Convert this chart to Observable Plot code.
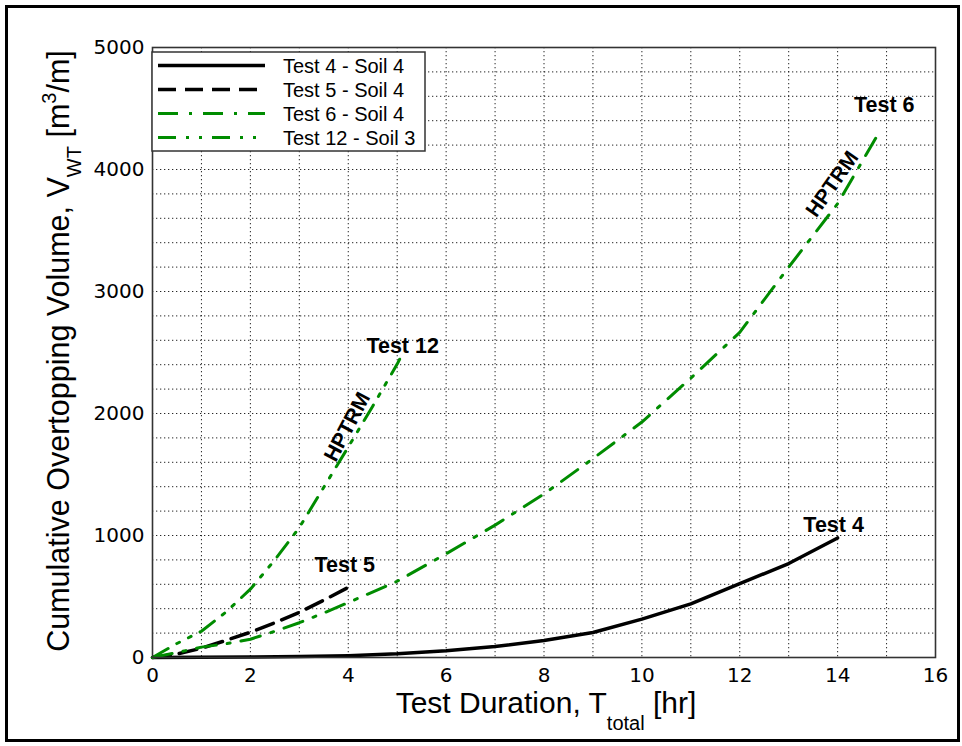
<!DOCTYPE html>
<html><head><meta charset="utf-8">
<script src="https://cdn.jsdelivr.net/npm/d3@7"></script>
<script src="https://cdn.jsdelivr.net/npm/@observablehq/plot@0.6"></script>
<style>
body{margin:0;background:#fff;}
#wrap{position:relative;width:962px;height:746px;background:#fff;}
#border{position:absolute;left:5px;top:5px;width:949px;height:731px;border:3px solid #000;pointer-events:none;}
#wrap svg{position:absolute;left:0;top:0;}
</style></head><body><div id="wrap"><div id="border"></div></div>
<script>
// ---- data ----
const seriesNames = ["Test 4 - Soil 4", "Test 5 - Soil 4", "Test 6 - Soil 4", "Test 12 - Soil 3"];
const endLabels = ["Test 4", "Test 5", "Test 6", "Test 12"];

const test4Hours  = [0, 1, 2, 3, 4, 5, 6, 7, 8, 9, 10, 11, 12, 13, 14];
const test4Volume = [0, 2, 4, 8, 15, 30, 55, 90, 140, 205, 315, 440, 605, 770, 980];

const test5Hours  = [0, 0.5, 1, 1.5, 2, 2.5, 3, 3.5, 4.05];
const test5Volume = [0, 28, 76, 140, 207, 285, 370, 470, 585];

const test6Hours  = [0, 0.5, 1, 1.5, 2, 2.5, 3, 3.5, 4, 5, 6, 7, 8, 9, 10, 11, 12, 13, 14, 14.87];
const test6Volume = [0, 40, 85, 112, 150, 215, 285, 365, 450, 625, 850, 1085, 1340, 1630, 1930, 2290, 2665, 3200, 3720, 4320];

const test12Hours  = [0, 0.5, 1, 1.5, 2, 2.5, 3, 3.5, 4, 4.5, 5, 5.05];
const test12Volume = [0, 115, 215, 372, 560, 800, 1065, 1395, 1725, 2060, 2405, 2445];

const xTicks = [0, 2, 4, 6, 8, 10, 12, 14, 16];
const yTicks = [0, 1000, 2000, 3000, 4000, 5000];

// HPTRM annotations (data coords, angle)
const hptrmHours  = [3.98, 13.89];
const hptrmVolume = [1890, 3880];
const hptrmAngle  = [-62, -55];

// ---- styles ----
const green = "#008c00";
const styles = [
  {stroke: "#000", dash: null, width: 3.5},
  {stroke: "#000", dash: "18,9", width: 3.5},
  {stroke: green, dash: "20,11,3,11", width: 3},
  {stroke: green, dash: "18,10,3,10,3,10", width: 3}
];
const labelOffsets = [[-4, -13], [-6, -21], [4, -25], [3, -13]];

const hoursList = [test4Hours, test5Hours, test6Hours, test12Hours];
const volList = [test4Volume, test5Volume, test6Volume, test12Volume];
const tables = hoursList.map((hs, i) => hs.map((h, j) => ({series: seriesNames[i], t: h, v: volList[i][j]})));

const lineMarks = tables.map((tab, i) => Plot.line(tab, {
  x: "t", y: "v", stroke: styles[i].stroke, strokeWidth: styles[i].width,
  strokeDasharray: styles[i].dash, strokeLinejoin: "round"
}));

const labelMarks = tables.map((tab, i) => Plot.text([tab[tab.length - 1]], {
  x: "t", y: "v", text: () => endLabels[i], dx: labelOffsets[i][0], dy: labelOffsets[i][1],
  fontWeight: "bold", fontSize: 21.5, fontFamily: "Liberation Sans, Arial, sans-serif", fill: "#000"
}));

const hptrm = hptrmHours.map((h, i) => ({t: h, v: hptrmVolume[i], a: hptrmAngle[i]}));

const plot = Plot.plot({
  width: 962, height: 746,
  marginLeft: 152, marginRight: 27, marginTop: 47, marginBottom: 89,
  style: {fontFamily: "DejaVu Sans, sans-serif", fontSize: "20px", background: "transparent", color: "#000"},
  x: {domain: [0, 16]},
  y: {domain: [0, 5000]},
  marks: [
    Plot.gridX(d3.range(1, 16), {stroke: "#000", strokeOpacity: 0.85, strokeDasharray: "1.3,2.7", strokeWidth: 1}),
    Plot.gridY(d3.range(200, 5000, 200), {stroke: "#000", strokeOpacity: 0.85, strokeDasharray: "1.3,2.7", strokeWidth: 1}),
    ...lineMarks,
    ...labelMarks,
    Plot.text(hptrm, {x: "t", y: "v", text: () => "HPTRM", rotate: "a", fontWeight: "bold", fontSize: 21,
      fontFamily: "Liberation Sans, Arial, sans-serif", fill: "#000"}),
    Plot.frame({stroke: "#333", strokeWidth: 1.6}),
    Plot.axisX({ticks: xTicks, tickSize: 0, tickPadding: 10, label: null, fontSize: 20, tickFormat: d3.format("d")}),
    Plot.axisY({ticks: yTicks, tickSize: 0, tickPadding: 8, label: null, fontSize: 20, tickFormat: d3.format("d")})
  ]
});

document.getElementById("wrap").appendChild(plot);

// ---- axis titles and legend ----
const svg = d3.select(plot);
const tf = "Liberation Sans, Arial, sans-serif";

const xt = svg.append("text").attr("x", 546).attr("y", 713).attr("text-anchor", "middle")
  .attr("font-family", tf).attr("font-size", 30).attr("fill", "#000");
xt.append("tspan").text("Test Duration, T");
xt.append("tspan").attr("font-size", 20).attr("dy", 17).text("total");
xt.append("tspan").attr("dy", -17).text(" [hr]");

const yt = svg.append("text").attr("transform", "translate(69,351) rotate(-90)").attr("text-anchor", "middle")
  .attr("font-family", tf).attr("font-size", 30.5).attr("fill", "#000");
yt.append("tspan").text("Cumulative Overtopping Volume, V");
yt.append("tspan").attr("font-size", 20).attr("dy", 12).text("WT");
yt.append("tspan").attr("dy", -12).text(" [m");
yt.append("tspan").attr("font-size", 20).attr("dy", -13).text("3");
yt.append("tspan").attr("dy", 13).text("/m]");

const lg = svg.append("g");
lg.append("rect").attr("x", 152).attr("y", 52).attr("width", 273).attr("height", 99)
  .attr("fill", "#fff").attr("stroke", "#333").attr("stroke-width", 1.5);
seriesNames.forEach((name, i) => {
  const y = 65.5 + 24 * i;
  lg.append("line").attr("x1", 158).attr("x2", 265).attr("y1", y).attr("y2", y)
    .attr("stroke", styles[i].stroke).attr("stroke-width", styles[i].width)
    .attr("stroke-dasharray", styles[i].dash);
  lg.append("text").attr("x", 283).attr("y", y + 7.5).attr("text-anchor", "start")
    .attr("font-family", tf).attr("font-size", 20)
    .attr("fill", "#000").text(name);
});
</script>
</body></html>
